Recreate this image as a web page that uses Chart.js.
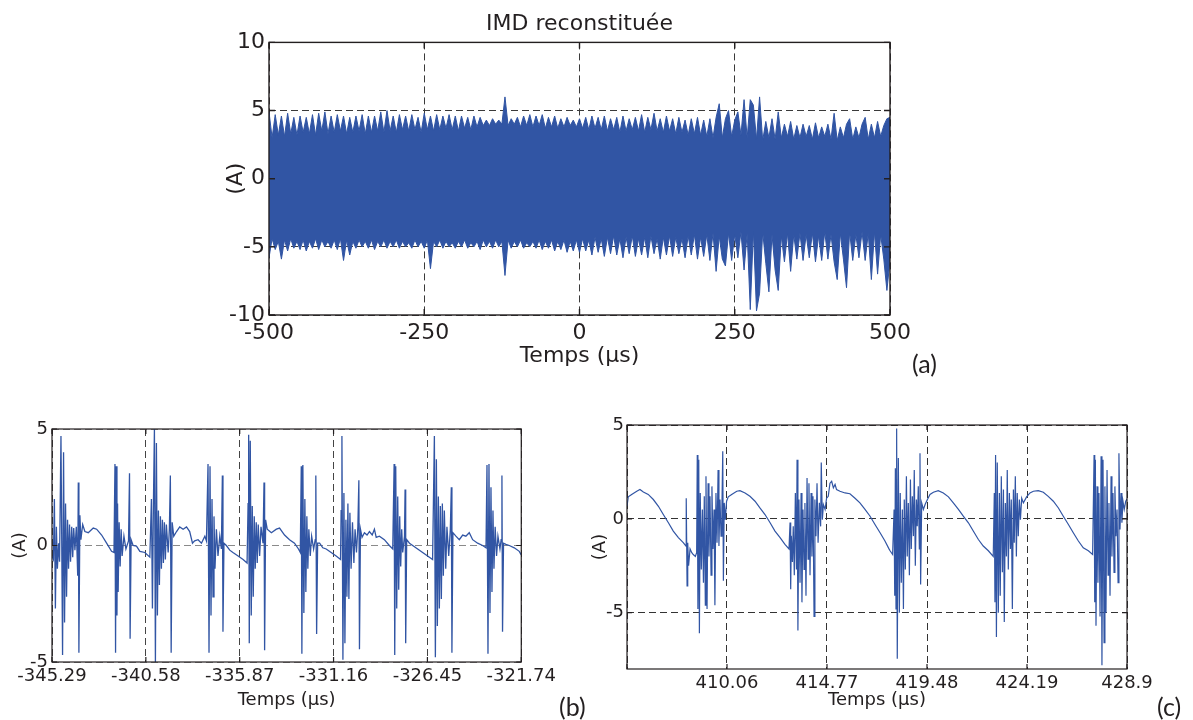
<!DOCTYPE html>
<html lang="fr">
<head>
<meta charset="utf-8">
<title>IMD reconstituée</title>
<script src="https://cdn.jsdelivr.net/npm/chart.js@4.4.1/dist/chart.umd.min.js"></script>
<style>
  html, body { margin: 0; padding: 0; background: #fff; }
  body { width: 1193px; height: 720px; position: relative; overflow: hidden; }
  .panneau { position: absolute; }
  .repere { position: absolute; font-family: Lato, "Open Sans", sans-serif; font-size: 25px; line-height: 1; color: #231f20; }
</style>
</head>
<body>
<div class="panneau" style="left:200px;top:0;width:759px;height:380px"><canvas id="graficoA" width="759" height="380"></canvas></div>
<div class="panneau" style="left:0;top:400px;width:560px;height:320px"><canvas id="graficoB" width="560" height="320"></canvas></div>
<div class="panneau" style="left:560px;top:400px;width:633px;height:320px"><canvas id="graficoC" width="633" height="320"></canvas></div>
<div class="repere" style="left:912px;top:351px">(a)</div>
<div class="repere" style="left:559px;top:694px">(b)</div>
<div class="repere" style="left:1157px;top:694px">(c)</div>

<script>
// (a) IMD reconstituée : enveloppe haute / basse du courant, pas de 5 µs
const tempsA = [
  -500, -495, -490, -485, -480, -475, -470, -465, -460, -455,
  -450, -445, -440, -435, -430, -425, -420, -415, -410, -405,
  -400, -395, -390, -385, -380, -375, -370, -365, -360, -355,
  -350, -345, -340, -335, -330, -325, -320, -315, -310, -305,
  -300, -295, -290, -285, -280, -275, -270, -265, -260, -255,
  -250, -245, -240, -235, -230, -225, -220, -215, -210, -205,
  -200, -195, -190, -185, -180, -175, -170, -165, -160, -155,
  -150, -145, -140, -135, -130, -125, -120, -115, -110, -105,
  -100, -95, -90, -85, -80, -75, -70, -65, -60, -55,
  -50, -45, -40, -35, -30, -25, -20, -15, -10, -5,
  0, 5, 10, 15, 20, 25, 30, 35, 40, 45,
  50, 55, 60, 65, 70, 75, 80, 85, 90, 95,
  100, 105, 110, 115, 120, 125, 130, 135, 140, 145,
  150, 155, 160, 165, 170, 175, 180, 185, 190, 195,
  200, 205, 210, 215, 220, 225, 230, 235, 240, 245,
  250, 255, 260, 265, 270, 275, 280, 285, 290, 295,
  300, 305, 310, 315, 320, 325, 330, 335, 340, 345,
  350, 355, 360, 365, 370, 375, 380, 385, 390, 395,
  400, 405, 410, 415, 420, 425, 430, 435, 440, 445,
  450, 455, 460, 465, 470, 475, 480, 485, 490, 495,
  500,
];
const hauteA = [
  4.9, 3.0, 4.7, 3.2, 4.6, 3.1, 4.8, 3.3, 4.5, 3.2,
  4.6, 3.4, 4.5, 3.3, 4.7, 3.2, 4.8, 3.5, 4.9, 3.3,
  4.6, 3.4, 4.7, 3.5, 4.6, 3.3, 4.5, 3.4, 4.6, 3.5,
  4.7, 3.3, 4.6, 3.4, 4.6, 3.5, 4.9, 3.4, 5.0, 3.5,
  4.6, 3.4, 4.7, 3.6, 4.6, 3.5, 4.7, 3.6, 4.5, 3.4,
  4.8, 3.6, 4.6, 3.5, 4.7, 3.6, 4.6, 3.7, 4.7, 3.6,
  4.6, 3.5, 4.6, 3.7, 4.5, 3.6, 4.6, 3.8, 4.5, 3.9,
  4.3, 3.9, 4.4, 4.0, 4.3, 4.0, 6.0, 3.9, 4.4, 4.0,
  4.5, 3.8, 4.6, 3.9, 4.7, 3.8, 4.6, 3.9, 4.7, 3.7,
  4.5, 3.8, 4.6, 3.7, 4.4, 3.8, 4.5, 3.9, 4.3, 3.8,
  4.4, 3.7, 4.5, 3.6, 4.6, 3.7, 4.5, 3.6, 4.6, 3.5,
  4.4, 3.6, 4.5, 3.4, 4.6, 3.5, 4.4, 3.6, 4.5, 3.5,
  4.7, 3.4, 4.5, 3.6, 4.8, 3.5, 4.4, 3.4, 4.6, 3.5,
  4.4, 3.3, 4.5, 3.4, 4.3, 3.2, 4.4, 3.3, 4.5, 3.2,
  4.3, 3.1, 4.4, 3.0, 4.5, 5.5, 3.0, 4.4, 5.0, 3.1,
  4.3, 4.9, 3.2, 5.8, 3.0, 5.8, 5.4, 2.9, 6.0, 2.8,
  4.2, 3.0, 4.4, 2.9, 4.9, 3.0, 4.0, 3.1, 4.2, 2.9,
  3.9, 3.0, 4.0, 3.1, 3.9, 2.9, 4.1, 3.0, 3.8, 3.1,
  4.0, 2.9, 4.8, 2.8, 3.8, 3.0, 4.0, 4.4, 2.9, 3.8,
  3.0, 4.0, 4.5, 2.9, 4.0, 3.0, 4.2, 3.1, 3.9, 4.4,
  4.5,
];
const basseA = [
  -5.8, -4.4, -5.2, -4.6, -5.9, -4.5, -5.3, -4.4, -5.1, -4.6,
  -5.2, -4.5, -5.3, -4.6, -5.1, -4.4, -5.2, -4.5, -5.0, -4.6,
  -5.1, -4.5, -5.2, -4.4, -6.0, -4.5, -5.6, -4.6, -5.1, -4.5,
  -5.0, -4.6, -5.1, -4.5, -5.2, -4.6, -5.0, -4.5, -5.1, -4.6,
  -5.0, -4.5, -5.1, -4.6, -5.0, -4.7, -5.1, -4.5, -5.0, -4.6,
  -5.1, -4.5, -6.6, -4.6, -5.0, -4.5, -5.1, -4.6, -5.0, -4.7,
  -5.1, -4.6, -5.0, -4.5, -5.1, -4.7, -5.0, -4.6, -5.2, -4.5,
  -5.0, -4.6, -5.1, -4.5, -5.0, -4.6, -7.1, -4.5, -5.1, -4.6,
  -5.0, -4.5, -5.1, -4.7, -5.0, -4.6, -5.1, -4.5, -5.2, -4.6,
  -5.1, -4.5, -5.3, -4.6, -5.2, -4.5, -5.4, -4.6, -5.3, -4.5,
  -5.4, -4.4, -5.3, -4.5, -5.6, -4.3, -5.4, -4.4, -5.7, -4.3,
  -5.5, -4.2, -5.6, -4.4, -5.8, -4.3, -5.5, -4.2, -5.7, -4.4,
  -5.6, -4.3, -5.8, -4.2, -5.5, -4.4, -5.9, -4.3, -5.6, -4.2,
  -5.7, -4.3, -5.5, -4.4, -5.8, -4.2, -5.6, -4.1, -5.9, -4.3,
  -5.7, -4.1, -6.0, -4.0, -6.8, -4.2, -5.9, -6.4, -4.0, -6.0,
  -4.1, -5.8, -3.9, -6.7, -4.0, -9.6, -3.8, -9.7, -8.4, -3.9,
  -6.2, -8.3, -4.1, -6.7, -8.2, -4.2, -6.1, -4.0, -6.8, -4.1,
  -5.9, -4.0, -6.0, -4.1, -5.8, -4.0, -6.1, -4.2, -6.0, -3.9,
  -5.9, -4.1, -6.1, -7.4, -4.0, -5.9, -8.0, -3.9, -6.0, -4.1,
  -5.8, -3.9, -6.0, -4.0, -7.4, -3.9, -7.0, -4.1, -5.9, -8.2,
  -6.0,
];
const ticksXA = [-500, -250, 0, 250, 500];
const labelsXA = ["-500", "-250", "0", "250", "500"];
const ticksYA = [-10, -5, 0, 5, 10];
const labelsYA = ["-10", "-5", "0", "5", "10"];

// (b) zoom de -345.29 à -321.74 µs
const tempsB = [
  -345.29, -345.22, -345.17, -345.12, -345.07, -345.02, -344.96, -344.91, -344.84, -344.76,
  -344.71, -344.66, -344.61, -344.56, -344.51, -344.46, -344.41, -344.36, -344.30, -344.25,
  -344.20, -344.14, -344.07, -344.00, -343.97, -343.94, -343.89, -343.84, -343.75, -343.64,
  -343.47, -343.22, -343.05, -342.80, -342.55, -342.30, -342.18, -342.13, -342.10, -342.07,
  -342.03, -342.00, -341.97, -341.92, -341.87, -341.82, -341.77, -341.68, -341.58, -341.45,
  -341.40, -341.37, -341.32, -341.22, -341.05, -340.88, -340.63, -340.38, -340.30, -340.25,
  -340.20, -340.15, -340.10, -340.05, -340.00, -339.95, -339.90, -339.85, -339.80, -339.75,
  -339.70, -339.65, -339.60, -339.55, -339.46, -339.40, -339.35, -339.31, -339.26, -339.18,
  -339.04, -338.88, -338.71, -338.54, -338.38, -338.24, -338.13, -337.96, -337.79, -337.62,
  -337.54, -337.46, -337.41, -337.36, -337.31, -337.26, -337.21, -337.16, -337.11, -337.04,
  -336.96, -336.87, -336.79, -336.74, -336.71, -336.66, -336.54, -336.37, -336.21, -335.95,
  -335.70, -335.50, -335.45, -335.42, -335.39, -335.34, -335.29, -335.24, -335.19, -335.14,
  -335.09, -335.04, -334.99, -334.94, -334.87, -334.80, -334.70, -334.65, -334.62, -334.57,
  -334.49, -334.28, -334.03, -333.87, -333.62, -333.37, -333.12, -332.92, -332.83, -332.78,
  -332.75, -332.70, -332.65, -332.60, -332.55, -332.50, -332.45, -332.40, -332.33, -332.26,
  -332.16, -332.08, -332.05, -332.01, -331.96, -331.86, -331.70, -331.53, -331.28, -331.03,
  -330.81, -330.78, -330.74, -330.69, -330.64, -330.59, -330.54, -330.49, -330.44, -330.39,
  -330.34, -330.28, -330.21, -330.14, -330.08, -330.01, -329.94, -329.89, -329.86, -329.81,
  -329.73, -329.61, -329.48, -329.36, -329.22, -329.11, -329.02, -328.86, -328.61, -328.36,
  -328.19, -328.12, -328.09, -328.04, -327.99, -327.94, -327.89, -327.84, -327.79, -327.74,
  -327.69, -327.60, -327.57, -327.54, -327.49, -327.35, -327.19, -326.94, -326.69, -326.44,
  -326.19, -326.10, -326.05, -326.00, -325.95, -325.90, -325.85, -325.80, -325.75, -325.70,
  -325.65, -325.60, -325.53, -325.47, -325.38, -325.30, -325.25, -325.22, -325.17, -325.02,
  -324.85, -324.68, -324.52, -324.35, -324.18, -323.93, -323.68, -323.51, -323.46, -323.41,
  -323.36, -323.31, -323.26, -323.21, -323.16, -323.11, -323.05, -322.98, -322.91, -322.81,
  -322.75, -322.71, -322.68, -322.63, -322.51, -322.34, -322.09, -321.84, -321.74,
];
const courantB = [
  -0.46, -0.6, 2.0, -2.7, 0.8, -1.0, 0.1, -0.7, 4.7, -4.7,
  4.0, -3.3, 1.8, -2.2, 1.1, -1.0, 0.9, -0.7, 0.8, -0.5,
  0.75, -0.2, 0.8, -1.3, 2.7, -4.6, 1.3, 0.25, 0.9, 0.6,
  0.55, 0.75, 0.7, 0.45, 0.1, -0.25, -0.3, 3.5, -4.6, 3.4,
  -3.0, 1.8, -2.0, 1.0, -0.9, 0.7, -0.45, 0.4, -0.15, 0.2,
  3.1, -4.0, 0.25, 0.0, -0.03, -0.25, -0.3, -0.5, 2.0, -2.7,
  1.8, 5.0, -5.0, 4.4, -3.0, 1.5, -1.7, 1.25, -1.0, 1.1,
  -0.75, 1.0, -0.6, 0.9, -0.3, 0.7, 3.0, -4.6, 1.0, 0.4,
  0.6, 0.8, 0.7, 0.8, 0.6, 0.1, 0.2, 0.25, 0.1, 0.4,
  0.2, 3.5, -4.6, 3.4, -3.0, 2.0, -2.2, 1.25, -1.0, 0.7,
  -0.45, 0.4, -0.15, 3.0, -3.7, 0.1, 0.0, -0.2, -0.3, -0.45,
  -0.6, -0.75, 1.8, 4.75, -4.2, 4.5, -3.0, 1.7, -2.2, 1.25,
  -1.0, 1.0, -0.75, 0.9, -0.45, 0.8, 0.1, 2.7, -4.5, 1.1,
  0.7, 0.55, 0.7, 0.75, 0.45, 0.25, 0.1, -0.15, -0.3, 3.4,
  -4.65, 3.45, -2.9, 2.0, -2.0, 1.25, -1.0, 0.7, -0.45, 0.4,
  -0.15, 0.25, 3.0, -3.8, 0.1, 0.1, -0.1, -0.15, -0.3, -0.45,
  -0.6, 1.5, 4.7, -4.9, 2.25, -4.2, 1.1, -2.2, 1.8, -2.3,
  1.4, -1.0, 1.0, -0.75, 0.7, -0.3, 0.8, 2.8, -4.45, 0.7,
  0.35, 0.55, 0.45, 0.6, 0.45, 0.7, 0.35, 0.4, 0.25, 0.0,
  -0.15, 3.5, -4.7, 3.4, -2.7, 2.1, -1.9, 1.25, -0.9, 0.7,
  -0.3, 0.4, 2.4, -4.2, 0.25, 0.1, 0.0, -0.15, -0.3, -0.45,
  -0.6, 4.7, -4.8, 3.7, -3.45, 2.1, -2.7, 1.7, -2.3, 1.8,
  -1.3, 1.5, -1.0, 0.8, -0.45, 0.7, 2.5, -4.6, 0.55, 0.4,
  0.25, 0.45, 0.4, 0.55, 0.25, 0.1, 0.0, -0.1, 3.45, -4.65,
  3.5, -2.9, 2.5, -2.0, 1.5, -1.0, 0.8, -0.45, 0.4, -0.15,
  0.25, 3.0, -3.7, 0.1, 0.05, 0.0, -0.1, -0.25, -0.4,
];
const ticksXB = [-345.29, -340.58, -335.87, -331.16, -326.45, -321.74];
const labelsXB = ["-345.29", "-340.58", "-335.87", "-331.16", "-326.45", "-321.74"];
const ticksYB = [-5, 0, 5];
const labelsYB = ["-5", "0", "5"];

// (c) zoom de 405.35 à 428.9 µs
const tempsC = [
  405.35, 405.41, 405.57, 405.81, 405.96, 406.12, 406.35, 406.59, 406.83, 407.06,
  407.30, 407.53, 407.77, 408.00, 408.13, 408.14, 408.18, 408.21, 408.25, 408.32,
  408.40, 408.47, 408.57, 408.63, 408.66, 408.69, 408.73, 408.76, 408.80, 408.85,
  408.90, 408.95, 408.99, 409.04, 409.07, 409.12, 409.17, 409.21, 409.26, 409.31,
  409.35, 409.40, 409.45, 409.49, 409.54, 409.59, 409.64, 409.68, 409.73, 409.78,
  409.82, 409.86, 409.89, 409.93, 409.98, 410.04, 410.12, 410.28, 410.52, 410.67,
  410.91, 411.14, 411.38, 411.61, 411.85, 412.09, 412.32, 412.56, 412.79, 412.98,
  413.03, 413.06, 413.09, 413.14, 413.18, 413.23, 413.28, 413.33, 413.36, 413.40,
  413.45, 413.50, 413.55, 413.59, 413.64, 413.69, 413.73, 413.78, 413.83, 413.88,
  413.92, 413.97, 414.02, 414.06, 414.11, 414.16, 414.20, 414.25, 414.30, 414.35,
  414.41, 414.47, 414.50, 414.55, 414.60, 414.68, 414.75, 414.83, 414.91, 414.99,
  415.07, 415.15, 415.22, 415.38, 415.62, 415.85, 416.09, 416.32, 416.56, 416.80,
  417.03, 417.27, 417.50, 417.69, 417.74, 417.86, 417.93, 417.96, 417.99, 418.02,
  418.05, 418.08, 418.13, 418.18, 418.22, 418.27, 418.32, 418.37, 418.41, 418.46,
  418.51, 418.55, 418.60, 418.65, 418.70, 418.74, 418.79, 418.84, 418.88, 418.93,
  418.98, 419.02, 419.07, 419.12, 419.15, 419.18, 419.23, 419.31, 419.39, 419.50,
  419.62, 419.78, 420.01, 420.25, 420.49, 420.72, 420.96, 421.19, 421.43, 421.66,
  421.90, 422.13, 422.37, 422.60, 422.65, 422.68, 422.71, 422.75, 422.79, 422.84,
  422.89, 422.93, 422.98, 423.03, 423.08, 423.12, 423.17, 423.22, 423.26, 423.31,
  423.36, 423.41, 423.45, 423.50, 423.55, 423.59, 423.64, 423.69, 423.73, 423.78,
  423.83, 423.88, 423.94, 424.02, 424.17, 424.33, 424.49, 424.72, 424.96, 425.19,
  425.43, 425.67, 425.90, 426.14, 426.37, 426.61, 426.84, 427.08, 427.28, 427.35,
  427.38, 427.41, 427.44, 427.49, 427.53, 427.58, 427.63, 427.68, 427.72, 427.77,
  427.82, 427.86, 427.91, 427.96, 428.01, 428.05, 428.10, 428.15, 428.19, 428.24,
  428.29, 428.33, 428.38, 428.43, 428.48, 428.52, 428.57, 428.62, 428.66, 428.71,
  428.77, 428.84, 428.90,
];
const courantC = [
  0.67, 1.17, 1.3, 1.47, 1.56, 1.43, 1.3, 1.03, 0.67, 0.23,
  -0.21, -0.65, -1.0, -1.27, -1.45, 1.1, -3.57, -1.27, -2.5, -1.6,
  -1.8, -1.9, -2.0, -1.8, 3.4, -4.8, 3.15, -6.1, 1.38, -2.7,
  0.5, -3.4, 1.2, -4.6, 2.27, -4.8, 1.9, -2.0, 1.2, -3.0,
  1.73, -1.6, 0.5, -4.6, 1.38, -1.27, 2.6, -1.45, 1.03, -0.92,
  0.5, 3.6, -3.3, 0.85, -0.04, 0.94, 1.17, 1.3, 1.47, 1.5,
  1.38, 1.2, 0.94, 0.58, 0.23, -0.21, -0.65, -1.0, -1.36, -1.6,
  -0.2, -3.75, -0.9, -2.3, -0.4, -3.0, 1.38, -2.7, 3.15, -5.95,
  1.03, -3.4, 1.38, -4.45, 0.5, -2.7, 0.85, -4.1, 2.18, -2.15,
  1.9, -3.0, 1.38, -2.0, 1.2, -5.2, 1.03, -0.92, 1.9, -1.27,
  0.85, -0.4, 3.0, -0.04, 0.76, 0.5, 1.1, 1.2, 1.9, 2.0,
  1.65, 1.83, 1.56, 1.47, 1.38, 1.34, 1.1, 0.85, 0.5, 0.14,
  -0.3, -0.74, -1.18, -1.6, -1.7, -1.9, 0.5, -4.1, 2.7, -4.8,
  4.82, -7.45, 3.24, -5.0, 1.38, -3.4, 0.5, -4.8, 1.03, -2.7,
  2.27, -2.0, 0.85, -3.0, 2.1, -1.6, 1.2, -0.92, 2.6, -2.5,
  1.03, -0.4, 1.73, -1.6, 3.5, -3.5, 0.85, 0.5, 0.76, 1.03,
  1.3, 1.42, 1.5, 1.38, 1.17, 0.85, 0.5, 0.14, -0.21, -0.65,
  -1.1, -1.45, -1.7, -2.0, 1.38, -4.45, 3.4, -6.3, 3.0, -5.0,
  1.38, -4.1, 2.27, -2.85, 1.56, -5.5, 0.85, -2.0, 2.6, -2.7,
  1.38, -1.6, 1.03, -4.8, 1.56, -1.27, 2.27, -2.0, 1.38, -0.92,
  1.03, -0.04, 1.1, 0.85, 1.17, 1.38, 1.47, 1.5, 1.42, 1.2,
  0.94, 0.58, 0.14, -0.3, -0.74, -1.18, -1.54, -1.7, -1.9, 3.4,
  -4.45, 3.15, -5.7, 1.73, -3.4, 1.38, -5.2, 3.33, -7.8, 3.15,
  -6.6, 1.73, -5.0, 2.6, -3.0, 0.85, -4.1, 2.27, -2.0, 1.38,
  -2.85, 1.73, -0.92, 0.5, -3.4, 3.5, -0.57, 1.38, -0.21, 0.94,
  0.5, 0.94, 1.06,
];
const ticksXC = [405.35, 410.06, 414.77, 419.48, 424.19, 428.9];
const labelsXC = ["", "410.06", "414.77", "419.48", "424.19", "428.9"];
const ticksYC = [-5, 0, 5];
const labelsYC = ["-5", "0", "5"];

const encre = "#231f20";
const bleu = "#3155a4";
const police = "'DejaVu Sans', sans-serif";

// cadre noir + petites graduations vers l'intérieur
const cadre = {
  id: "cadre",
  afterDatasetsDraw(chart, args, opts) {
    const { ctx, chartArea: a } = chart;
    const { x, y } = chart.scales;
    const len = opts.tick;
    ctx.save();
    ctx.strokeStyle = encre;
    ctx.lineWidth = opts.width;
    ctx.setLineDash([]);
    ctx.beginPath();
    x.ticks.forEach((t) => {
      const px = x.getPixelForValue(t.value);
      ctx.moveTo(px, a.bottom);
      ctx.lineTo(px, a.bottom - len);
      ctx.moveTo(px, a.top);
      ctx.lineTo(px, a.top + len);
    });
    y.ticks.forEach((t) => {
      const py = y.getPixelForValue(t.value);
      ctx.moveTo(a.left, py);
      ctx.lineTo(a.left + len, py);
      ctx.moveTo(a.right, py);
      ctx.lineTo(a.right - len, py);
    });
    ctx.stroke();
    ctx.strokeRect(a.left, a.top, a.right - a.left, a.bottom - a.top);
    ctx.restore();
  },
};

const echelles = (p) => ({
  x: {
    type: "linear",
    min: p.xMin,
    max: p.xMax,
    afterBuildTicks: (s) => { s.ticks = p.xTicks.map((v) => ({ value: v })); },
    afterFit: (s) => { s.height = p.xHeight; },
    grid: { color: p.gridX, lineWidth: 1, drawTicks: false },
    border: { display: false, dash: [7, 4] },
    ticks: {
      autoSkip: false,
      maxRotation: 0,
      padding: p.xPad,
      color: encre,
      font: { family: police, size: p.tickSize },
      callback: (v, i) => p.xLabels[i],
    },
    title: {
      display: true,
      text: "Temps (µs)",
      color: encre,
      font: { family: police, size: p.titleSize },
      padding: { top: 0, bottom: p.xTitlePad },
    },
  },
  y: {
    type: "linear",
    min: p.yMin,
    max: p.yMax,
    afterBuildTicks: (s) => { s.ticks = p.yTicks.map((v) => ({ value: v })); },
    afterFit: (s) => { s.width = p.yWidth; },
    grid: { color: p.gridY, lineWidth: 1, drawTicks: false },
    border: { display: false, dash: [7, 4] },
    ticks: {
      padding: p.yPad,
      color: encre,
      font: { family: police, size: p.tickSize },
      callback: (v, i) => p.yLabels[i],
    },
    title: {
      display: true,
      text: "(A)",
      color: encre,
      font: { family: police, size: p.titleSize },
      padding: { top: p.yTitlePad, bottom: 0 },
    },
  },
});

const trace = (temps, valeurs, largeur, extra) => Object.assign({
  data: temps.map((t, i) => ({ x: t, y: valeurs[i] })),
  borderColor: bleu,
  backgroundColor: bleu,
  borderWidth: largeur,
  pointRadius: 0,
  tension: 0,
  fill: false,
}, extra || {});

const options = (p, titre) => ({
  responsive: false,
  animation: false,
  events: [],
  layout: { padding: p.padding },
  plugins: {
    legend: { display: false },
    tooltip: { enabled: false },
    title: titre || { display: false },
    cadre: { tick: p.tickLen, width: p.frame },
  },
  scales: echelles(p),
});

const pA = {
  xMin: -500, xMax: 500, xTicks: ticksXA, xLabels: labelsXA,
  yMin: -10, yMax: 10, yTicks: ticksYA, yLabels: labelsYA,
  xHeight: 65, yWidth: 69, xPad: 5, yPad: 4, xTitlePad: 11, yTitlePad: 23,
  tickSize: 22, titleSize: 22, gridX: "#3a3a3a", gridY: "#3a3a3a",
  padding: { top: 0, right: 69, bottom: 0, left: 0 }, tickLen: 6, frame: 1.4,
};
const pB = {
  xMin: -345.29, xMax: -321.74, xTicks: ticksXB, xLabels: labelsXB,
  yMin: -5, yMax: 5, yTicks: ticksYB, yLabels: labelsYB,
  xHeight: 58, yWidth: 52, xPad: 4, yPad: 4, xTitlePad: 9, yTitlePad: 10,
  tickSize: 18, titleSize: 18, gridX: "#444", gridY: "#8a8a8a",
  padding: { top: 29, right: 38, bottom: 0, left: 0 }, tickLen: 5, frame: 1.2,
};
const pC = {
  xMin: 405.35, xMax: 428.9, xTicks: ticksXC, xLabels: labelsXC,
  yMin: -8, yMax: 5, yTicks: ticksYC, yLabels: labelsYC,
  xHeight: 51, yWidth: 67, xPad: 4, yPad: 3, xTitlePad: 9, yTitlePad: 30,
  tickSize: 18, titleSize: 18, gridX: "#333", gridY: "#333",
  padding: { top: 25, right: 66, bottom: 0, left: 0 }, tickLen: 5, frame: 1.2,
};

new Chart(document.getElementById("graficoA"), {
  type: "line",
  data: {
    datasets: [
      trace(tempsA, hauteA, 1, { fill: "+1" }),
      trace(tempsA, basseA, 1),
    ],
  },
  options: options(pA, {
    display: true,
    fullSize: false, // centré sur la zone du tracé
    text: "IMD reconstituée",
    color: encre,
    font: { family: police, size: 22, weight: "normal" },
    padding: { top: 11, bottom: 5 },
  }),
  plugins: [cadre],
});

new Chart(document.getElementById("graficoB"), {
  type: "line",
  data: { datasets: [trace(tempsB, courantB, 1.3)] },
  options: options(pB),
  plugins: [cadre],
});

new Chart(document.getElementById("graficoC"), {
  type: "line",
  data: { datasets: [trace(tempsC, courantC, 1.2)] },
  options: options(pC),
  plugins: [cadre],
});
</script>
</body>
</html>
